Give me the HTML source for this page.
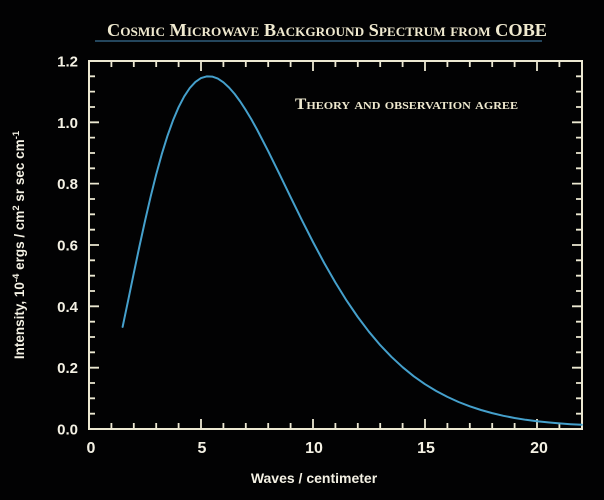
<!DOCTYPE html>
<html>
<head>
<meta charset="utf-8">
<style>
  html, body { margin: 0; padding: 0; background: #000; }
  body { width: 604px; height: 500px; overflow: hidden; }
  svg { display: block; }
</style>
</head>
<body>
<svg width="604" height="500" viewBox="0 0 604 500" xmlns="http://www.w3.org/2000/svg">
  <rect x="0" y="0" width="604" height="500" fill="#020203"/>

  <!-- Title -->
  <text x="107" y="36" textLength="440" lengthAdjust="spacingAndGlyphs"
        font-family="Liberation Serif, serif" font-weight="bold" font-size="18"
        fill="#efe9cf" style="font-variant: small-caps;">Cosmic Microwave Background Spectrum from COBE</text>
  <line x1="95" y1="41" x2="542" y2="41" stroke="#3a6f93" stroke-width="1.2"/>

  <!-- Subtitle -->
  <text x="295" y="109" textLength="223" lengthAdjust="spacingAndGlyphs"
        font-family="Liberation Serif, serif" font-weight="bold" font-size="15.5"
        fill="#efe9cf" style="font-variant: small-caps;">Theory and observation agree</text>

  <!-- Frame -->
  <rect x="89" y="61" width="493" height="368" fill="none" stroke="#ece8d2" stroke-width="2"/>

  <!-- Ticks -->
  <g stroke="#ece8d2" stroke-width="1.8">
    <path d="M111.4 429v-6 M133.8 429v-6 M156.2 429v-6 M178.6 429v-6 M201 429v-10
             M223.4 429v-6 M245.8 429v-6 M268.2 429v-6 M290.6 429v-6 M313 429v-10
             M335.4 429v-6 M357.8 429v-6 M380.2 429v-6 M402.6 429v-6 M425 429v-10
             M447.4 429v-6 M469.8 429v-6 M492.2 429v-6 M514.6 429v-6 M537 429v-10
             M559.4 429v-6"/>
    <path d="M111.4 61v6 M133.8 61v6 M156.2 61v6 M178.6 61v6 M201 61v10
             M223.4 61v6 M245.8 61v6 M268.2 61v6 M290.6 61v6 M313 61v10
             M335.4 61v6 M357.8 61v6 M380.2 61v6 M402.6 61v6 M425 61v10
             M447.4 61v6 M469.8 61v6 M492.2 61v6 M514.6 61v6 M537 61v10
             M559.4 61v6"/>
    <path d="M89 413.7h6 M89 398.3h6 M89 383h6 M89 367.7h10
             M89 352.3h6 M89 337h6 M89 321.7h6 M89 306.3h10
             M89 291h6 M89 275.7h6 M89 260.3h6 M89 245h10
             M89 229.7h6 M89 214.3h6 M89 199h6 M89 183.6h10
             M89 168.3h6 M89 153h6 M89 137.6h6 M89 122.3h10
             M89 107h6 M89 91.6h6 M89 76.3h6"/>
    <path d="M582 413.7h-6 M582 398.3h-6 M582 383h-6 M582 367.7h-10
             M582 352.3h-6 M582 337h-6 M582 321.7h-6 M582 306.3h-10
             M582 291h-6 M582 275.7h-6 M582 260.3h-6 M582 245h-10
             M582 229.7h-6 M582 214.3h-6 M582 199h-6 M582 183.6h-10
             M582 168.3h-6 M582 153h-6 M582 137.6h-6 M582 122.3h-10
             M582 107h-6 M582 91.6h-6 M582 76.3h-6"/>
  </g>

  <!-- Y tick labels -->
  <g font-family="Liberation Sans, sans-serif" font-weight="bold" font-size="15" fill="#f4f1e4" text-anchor="end">
    <text x="78" y="434.5">0.0</text>
    <text x="78" y="373.2">0.2</text>
    <text x="78" y="311.8">0.4</text>
    <text x="78" y="250.5">0.6</text>
    <text x="78" y="189.1">0.8</text>
    <text x="78" y="127.8">1.0</text>
    <text x="78" y="66.5">1.2</text>
  </g>

  <!-- X tick labels -->
  <g font-family="Liberation Sans, sans-serif" font-weight="bold" font-size="16" fill="#f4f1e4" text-anchor="middle">
    <text x="91" y="453">0</text>
    <text x="202" y="453">5</text>
    <text x="314" y="453">10</text>
    <text x="426" y="453">15</text>
    <text x="539" y="453">20</text>
  </g>

  <!-- X axis title -->
  <text x="314" y="483" text-anchor="middle" font-family="Liberation Sans, sans-serif" font-weight="bold" font-size="14" fill="#f4f1e4">Waves / centimeter</text>

  <!-- Y axis title -->
  <text transform="translate(24,245) rotate(-90)" text-anchor="middle" font-family="Liberation Sans, sans-serif" font-weight="bold" font-size="13.5" fill="#f4f1e4">Intensity, 10<tspan font-size="9.5" dy="-5">-4</tspan><tspan dy="5"> ergs / cm</tspan><tspan font-size="9.5" dy="-5">2</tspan><tspan dy="5"> sr sec cm</tspan><tspan font-size="9.5" dy="-5">-1</tspan></text>

  <!-- Planck curve -->
  <polyline fill="none" stroke="#45a0cc" stroke-width="2" stroke-linejoin="round" stroke-linecap="round"
    points="122.6,326.9 128.2,300.2 133.8,273.1 139.4,246.5 145,221.0 150.6,196.8 156.2,174.4
            161.8,154.1 167.4,136.1 173,120.4 178.6,107.2 184.2,96.4 189.8,88.0
            195.4,81.9 201,78.1 206.6,76.4 212.2,76.6 217.8,78.6 223.4,82.3 229,87.5
            234.6,93.9 240.2,101.5 245.8,110.1 251.4,119.4 257,129.5 268.2,151.2 279.4,173.9 290.6,197.1
            301.8,219.9 313,242.0 324.2,263.0 335.4,282.5 346.6,300.6 357.8,317.0
            369,331.8 380.2,345.1 391.4,356.8 402.6,367.2 413.8,376.3 425,384.2
            436.2,391.0 447.4,396.9 458.6,402.0 469.8,406.3 481,410.0 492.2,413.1
            503.4,415.8 514.6,418.0 525.8,419.8 537,421.2 548.2,422.4 559.4,423.4
            570.6,424.2 581.8,424.8"/>
</svg>
</body>
</html>
